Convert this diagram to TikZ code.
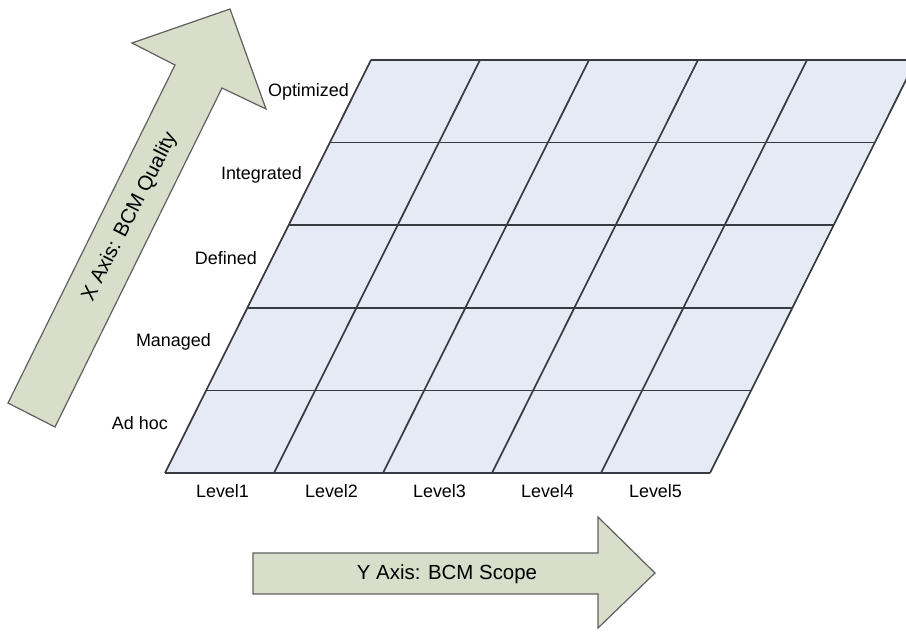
\documentclass[tikz,border=0pt]{standalone}
\usepackage{fontspec}
\setmainfont{Liberation Sans}
\usetikzlibrary{calc}
\definecolor{gridfill}{RGB}{230,234,245}
\definecolor{gridline}{RGB}{55,59,65}
\definecolor{arrowfill}{RGB}{217,222,203}
\definecolor{arrowline}{RGB}{95,95,95}
\tikzset{
  gridedge/.style={draw=gridline, line width=1.7bp},
  bigarrow/.style={fill=arrowfill, draw=arrowline, line width=1.2bp, line join=miter},
  lbl/.style={inner sep=0pt, font=\fontsize{18}{21}\selectfont},
  axislbl/.style={inner sep=0pt, font=\fontsize{20.5}{24}\selectfont}
}
\begin{document}
\begin{tikzpicture}[x=1bp,y=-1bp]
\useasboundingbox (0,0) rectangle (906,632);
% grid
\coordinate (BL) at (165,473);
\coordinate (BR) at (710,473);
\coordinate (TR) at (916,60);
\coordinate (TL) at (371,60);
\fill[gridfill] (BL) -- (BR) -- (TR) -- (TL) -- cycle;
\foreach \i in {0,...,5} {
  \draw[gridedge] ($(BL)!\i/5!(TL)$) -- ($(BR)!\i/5!(TR)$);
  \draw[gridedge] ($(BL)!\i/5!(BR)$) -- ($(TL)!\i/5!(TR)$);
}
% X arrow
\draw[bigarrow] (8,403) -- (175,65) -- (132,43) -- (230,9) -- (266,109) -- (222,88) -- (55,427) -- cycle;
\node[axislbl, rotate=63] (xlab) at (130,217) {X Axis: BCM Quality};
% Y arrow
\draw[bigarrow] (253,553) -- (598,553) -- (598,517) -- (655,573) -- (598,628) -- (598,594) -- (253,594) -- cycle;
\node[axislbl] (ylab) at (447,574) {Y Axis: BCM Scope};
% row labels
\node[lbl, anchor=east] (r5) at (349,92) {Optimized};
\node[lbl, anchor=east] (r4) at (302,175) {Integrated};
\node[lbl, anchor=east] (r3) at (257,258) {Defined};
\node[lbl, anchor=east] (r2) at (211,342) {Managed};
\node[lbl, anchor=east] (r1) at (168,423) {Ad hoc};
% column labels
\node[lbl] (c1) at (222.5,491) {Level1};
\node[lbl] (c2) at (331.5,491) {Level2};
\node[lbl] (c3) at (439.5,491) {Level3};
\node[lbl] (c4) at (547.5,491) {Level4};
\node[lbl] (c5) at (655.5,491) {Level5};
\end{tikzpicture}
\end{document}
